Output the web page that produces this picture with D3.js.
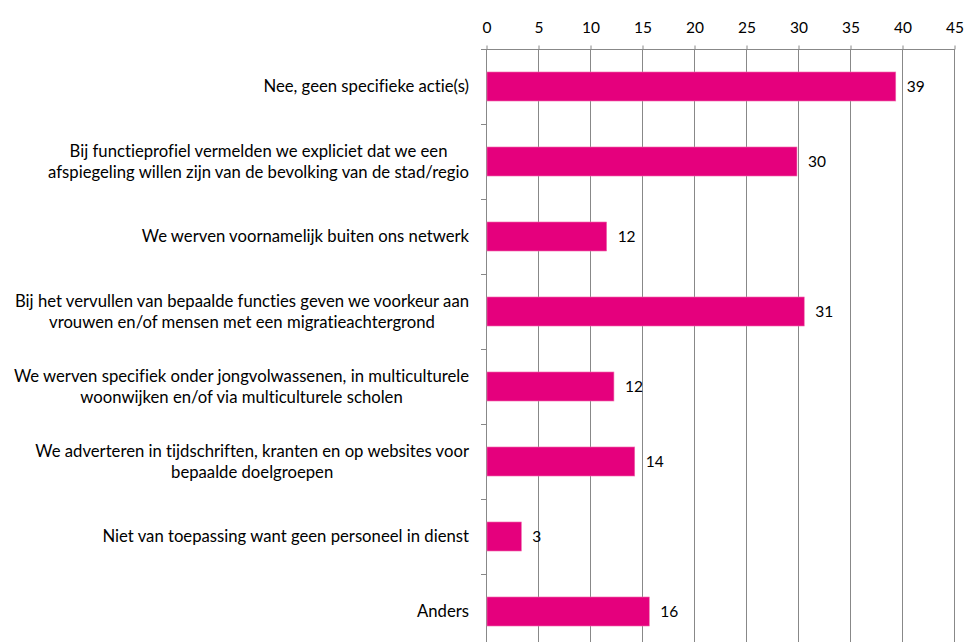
<!DOCTYPE html>
<html>
<head>
<meta charset="utf-8">
<script src="https://cdn.jsdelivr.net/npm/d3@7"></script>
<style>
  html, body { margin: 0; padding: 0; background: #fff; }
  svg { display: block; }
  text { font-family: Lato, "Open Sans", sans-serif; fill: #000; font-variant-ligatures: none; }
</style>
</head>
<body>
<svg id="chart" width="964" height="642"></svg>
<script>
// ---- data ----
const categories = [
  ["Nee, geen specifieke actie(s)"],
  ["Bij functieprofiel vermelden we expliciet dat we een", "afspiegeling willen zijn van de bevolking van de stad/regio"],
  ["We werven voornamelijk buiten ons netwerk"],
  ["Bij het vervullen van bepaalde functies geven we voorkeur aan", "vrouwen en/of mensen met een migratieachtergrond"],
  ["We werven specifiek onder jongvolwassenen, in multiculturele", "woonwijken en/of via multiculturele scholen"],
  ["We adverteren in tijdschriften, kranten en op websites voor", "bepaalde doelgroepen"],
  ["Niet van toepassing want geen personeel in dienst"],
  ["Anders"]
];
const values = [39.4, 29.9, 11.6, 30.6, 12.3, 14.3, 3.4, 15.7];
const valueLabels = ["39", "30", "12", "31", "12", "14", "3", "16"];
const xTicks = [0, 5, 10, 15, 20, 25, 30, 35, 40, 45];

// ---- layout ----
const svg = d3.select("#chart");
const mLeft = 486, mRight = 954, mTop = 49, mBottom = 649;
const barColor = "#E5007D";
const gridColor = "#888888";
const numSize = 15.5;
const catSize = 16.7;

const x = d3.scaleLinear().domain([0, 45]).range([mLeft, mRight]);
const idx = categories.map((d, i) => i);
const y = d3.scaleBand().domain(idx).range([mTop, mBottom])
  .paddingInner(0.613).paddingOuter(0.3065);
const step = y.step();

// gridlines
svg.append("g").selectAll("line").data(xTicks.slice(1)).join("line")
  .attr("x1", d => x(d) + 0.5).attr("x2", d => x(d) + 0.5)
  .attr("y1", mTop).attr("y2", mBottom)
  .attr("stroke", gridColor).attr("stroke-width", 1);

// top axis
const xAxis = d3.axisTop(x).tickValues(xTicks).tickSize(4).tickPadding(13).tickSizeOuter(0);
const gx = svg.append("g").attr("transform", `translate(0.5,${mTop + 0.5})`).call(xAxis);
gx.select(".domain").attr("stroke", gridColor).attr("d", `M${mLeft - 5.5},0H${mRight}`);
gx.selectAll(".tick line").attr("stroke", gridColor);
gx.selectAll(".tick text").attr("font-size", numSize).attr("font-family", "Lato, sans-serif").attr("fill", "#000");

// left axis line & ticks at band boundaries
svg.append("line").attr("x1", mLeft + 0.5).attr("x2", mLeft + 0.5)
  .attr("y1", mTop).attr("y2", mBottom).attr("stroke", gridColor);
const boundaries = idx.slice(1).map(i => y(i) - (step - y.bandwidth()) / 2);
svg.append("g").selectAll("line").data(boundaries).join("line")
  .attr("x1", mLeft - 5).attr("x2", mLeft)
  .attr("y1", d => Math.round(d) + 0.5).attr("y2", d => Math.round(d) + 0.5)
  .attr("stroke", gridColor);

// bars
svg.append("g").selectAll("rect").data(values).join("rect")
  .attr("x", x(0) + 1).attr("y", (d, i) => y(i))
  .attr("width", d => x(d) - x(0) - 1).attr("height", y.bandwidth())
  .attr("fill", barColor).attr("stroke", "#F06FAF").attr("stroke-width", 0.6);

// value labels
svg.append("g").selectAll("text").data(values).join("text")
  .attr("x", d => x(d) + 11).attr("y", (d, i) => y(i) + y.bandwidth() / 2)
  .attr("dy", "0.35em").attr("font-size", numSize)
  .text((d, i) => valueLabels[i]);

// category labels (centered block, right edge at 469)
const labelRight = 469, lineH = 21;
const lg = svg.append("g");
categories.forEach((lines, i) => {
  const cy = y(i) + y.bandwidth() / 2;
  const g = lg.append("g");
  const ts = lines.map((ln, j) => g.append("text")
    .attr("font-size", catSize).attr("text-anchor", "middle")
    .attr("y", cy + (j - (lines.length - 1) / 2) * lineH)
    .attr("dy", "0.35em").text(ln));
  const maxW = d3.max(ts, t => t.node().getComputedTextLength());
  ts.forEach(t => t.attr("x", labelRight - maxW / 2));
});
</script>
</body>
</html>
